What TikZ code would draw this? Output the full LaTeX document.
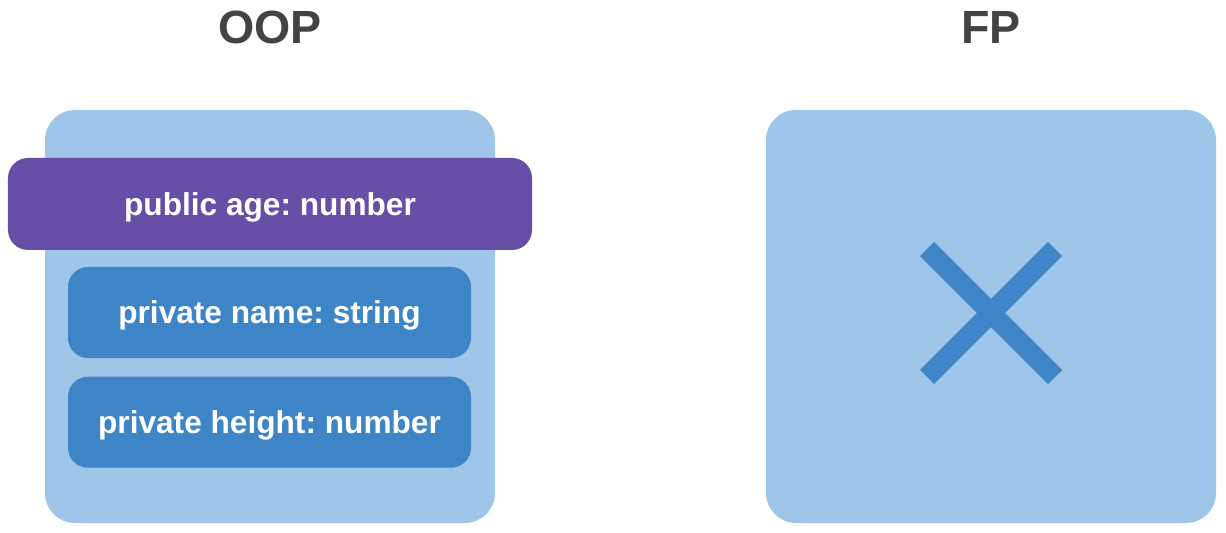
\documentclass[tikz,border=0pt]{standalone}
\usepackage{fontspec}
\setmainfont{Liberation Sans}
\usepackage{tikz}
\usetikzlibrary{positioning}

\definecolor{paleblue}{HTML}{9FC5E8}
\definecolor{fieldblue}{HTML}{3D85C6}
\definecolor{fieldpurple}{HTML}{674EA7}
\definecolor{titlegray}{HTML}{434343}

\frenchspacing
\begin{document}
\begin{tikzpicture}[
  title/.style={font=\bfseries\fontsize{26.5}{30}\selectfont, text=titlegray, text depth=0pt},
  panel/.style={fill=paleblue, rounded corners=0.6cm, minimum width=9cm, minimum height=8.26cm},
  field/.style={rounded corners=0.4cm, minimum height=1.82cm, text=white, text depth=0pt, font=\bfseries\fontsize{18}{22}\selectfont},
  privatebox/.style={field, fill=fieldblue, minimum width=8.06cm},
  publicbox/.style={field, fill=fieldpurple, minimum width=10.48cm, minimum height=1.84cm}
]
\useasboundingbox (0,0) rectangle (24.52,-10.66);

% titles
\node[title] (ooptitle) at (5.4,-0.54) {OOP};
\node[title] (fptitle) at (19.82,-0.54) {FP};

% object with its fields
\node[panel] (oop) at (5.4,-6.33) {};
\node[publicbox] (age) at (5.4,-4.08) {public age: number};
\node[privatebox] (name) at (5.39,-6.25) {private name: string};
\node[privatebox, below=0.36cm of name] (height) {private height: number};

% functional side: no such object
\node[panel] (fp) at (19.82,-6.33) {};
\draw[fieldblue, line width=0.4cm] ([shift={(-1.28,1.35)}]fp.center) -- ([shift={(1.28,-1.21)}]fp.center);
\draw[fieldblue, line width=0.4cm] ([shift={(1.28,1.35)}]fp.center) -- ([shift={(-1.28,-1.21)}]fp.center);
\end{tikzpicture}
\end{document}
